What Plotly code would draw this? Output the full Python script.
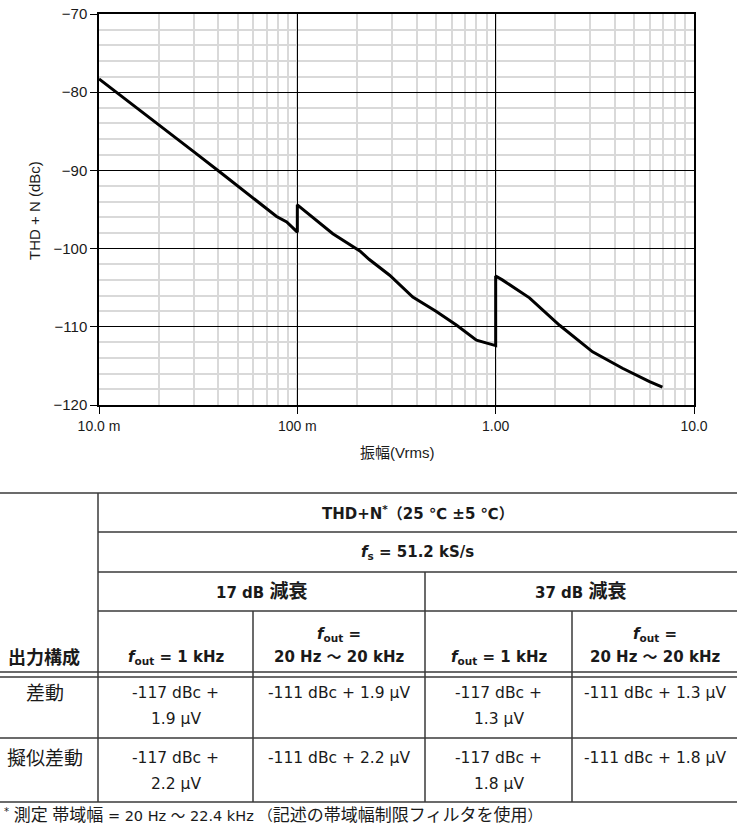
import re
import plotly.graph_objects as go

# ---------------- chart data ----------------
amplitude_vrms = [0.010, 0.013, 0.016, 0.021, 0.030, 0.0407, 0.0597, 0.0786, 0.0884, 0.099, 0.100,
                  0.100, 0.151, 0.2066, 0.2307, 0.292, 0.382, 0.50, 0.636, 0.80, 0.956, 1.00,
                  1.00, 1.08, 1.48, 2.10, 3.08, 4.36, 5.97, 6.93]
thdn_dbc = [-78.3, -80.5, -82.3, -84.6, -87.6, -90.2, -93.5, -95.9, -96.6, -97.8, -97.9,
            -94.4, -98.1, -100.3, -101.4, -103.4, -106.2, -108.0, -109.8, -111.7, -112.2, -112.4,
            -103.5, -104.0, -106.3, -109.8, -113.2, -115.3, -117.0, -117.7]

x_tickvals = [0.01, 0.1, 1, 10]
x_ticktext = ["10.0 m", "100 m", "1.00", "10.0"]
x_title = "振幅(Vrms)"
y_title = "THD + N (dBc)"

# ---------------- table data ----------------
hdr_top = "THD+N<sup>*</sup>（25 ℃ ±5 ℃）"
hdr_fs = "<i>f</i><sub>s</sub> = 51.2 kS/s"
hdr_atten = ["17 dB 減衰", "37 dB 減衰"]
hdr_config = "出力構成"
hdr_freq = ["<i>f</i><sub>out</sub> = 1 kHz", "<i>f</i><sub>out</sub> =<br>20 Hz ～ 20 kHz",
            "<i>f</i><sub>out</sub> = 1 kHz", "<i>f</i><sub>out</sub> =<br>20 Hz ～ 20 kHz"]
row_labels = ["差動", "擬似差動"]
cell_values = [
    ["-117 dBc +<br>1.9 µV", "-111 dBc + 1.9 µV", "-117 dBc +<br>1.3 µV", "-111 dBc + 1.3 µV"],
    ["-117 dBc +<br>2.2 µV", "-111 dBc + 2.2 µV", "-117 dBc +<br>1.8 µV", "-111 dBc + 1.8 µV"],
]
footnote = "<sup>*</sup> 測定 帯域幅 = 20 Hz ～ 22.4 kHz （記述の帯域幅制限フィルタを使用）"

# ---------------- layout helpers ----------------
W, H = 737, 825
def fx(p):
    return p / W
def fy(p):
    return 1 - p / H

PLOT_L, PLOT_R, PLOT_T, PLOT_B = 99, 694, 14, 405
CHART_FONT = "Liberation Sans, Arial, Noto Sans CJK JP"
TABLE_FONT = "DejaVu Sans, Noto Sans CJK JP"
TXT = "#1a1a1a"

CJK_RE = re.compile(r"([\u3040-\u30ff\u4e00-\u9fff]+)")
def cjk(s, size):
    return CJK_RE.sub(lambda m: '<span style="font-size:%gpx">%s</span>' % (size, m.group(1)), s)

fig = go.Figure()
fig.add_trace(go.Scatter(x=amplitude_vrms, y=thdn_dbc, mode="lines",
                         line=dict(color="black", width=3), showlegend=False, hoverinfo="skip"))

fig.update_xaxes(type="log", range=[-2, 1], domain=[fx(PLOT_L), fx(PLOT_R)], automargin=False,
                 tickmode="array", tickvals=x_tickvals, ticktext=x_ticktext,
                 showgrid=True, gridcolor="black", gridwidth=1,
                 minor=dict(dtick="D1", showgrid=True, gridcolor="#d9d9d9", gridwidth=2, ticks=""),
                 showline=True, linecolor="black", linewidth=1.5, mirror=True,
                 ticks="outside", ticklen=7, tickcolor="black",
                 tickfont=dict(family=CHART_FONT, size=14, color=TXT),
                 zeroline=False, layer="below traces")
fig.update_yaxes(range=[-120, -70], domain=[fy(PLOT_B), fy(PLOT_T)], automargin=False,
                 dtick=10, showgrid=True, gridcolor="black", gridwidth=1,
                 minor=dict(dtick=2, showgrid=True, gridcolor="#d9d9d9", gridwidth=2, ticks=""),
                 showline=True, linecolor="black", linewidth=1.5, mirror=True,
                 ticks="outside", ticklen=7, tickcolor="black",
                 tickfont=dict(family=CHART_FONT, size=15, color=TXT),
                 zeroline=False)

annotations = []
shapes = []

def text(x, y, s, size=15, bold=False, xanchor="center", family=TABLE_FONT, cjk_size=None):
    if cjk_size:
        s = cjk(s, cjk_size)
    if bold:
        s = "<b>" + s + "</b>"
    annotations.append(dict(x=fx(x), y=fy(y), xref="paper", yref="paper", text=s,
                            showarrow=False, xanchor=xanchor, yanchor="middle",
                            font=dict(family=family, size=size, color=TXT)))

def multiline(x, y0, s, step, **kw):
    for i, part in enumerate(s.split("<br>")):
        text(x, y0 + i * step, part, **kw)

# axis titles
text(397, 452, x_title, size=15, family=CHART_FONT)
annotations.append(dict(x=fx(35), y=fy(211), xref="paper", yref="paper", text=y_title,
                        showarrow=False, textangle=-90, xanchor="center", yanchor="middle",
                        font=dict(family=CHART_FONT, size=15, color=TXT)))

# table lines
LC = "#3a3a3a"
def hline(y, x0, x1, w=1.5):
    shapes.append(dict(type="line", xref="paper", yref="paper", x0=fx(x0), x1=fx(x1),
                       y0=fy(y), y1=fy(y), line=dict(color=LC, width=w)))
def vline(x, y0, y1, w=1.5):
    shapes.append(dict(type="line", xref="paper", yref="paper", x0=fx(x), x1=fx(x),
                       y0=fy(y0), y1=fy(y1), line=dict(color=LC, width=w)))

COLS = [0, 98, 253, 425, 572, 737]
hline(493, 0, 737)
hline(532, 98, 737)
hline(572, 98, 737)
hline(611, 98, 737)
hline(672, 0, 737)
hline(677, 0, 737)
hline(738, 0, 737)
hline(802, 0, 737)
vline(98, 493, 802)
vline(425, 572, 802)
vline(253, 611, 802)
vline(572, 611, 802)

# header text
text((98 + 737) / 2, 513, hdr_top, bold=True)
text((98 + 737) / 2, 552, hdr_fs, bold=True)
text((98 + 425) / 2, 591, hdr_atten[0], bold=True, cjk_size=19)
text((425 + 737) / 2, 591, hdr_atten[1], bold=True, cjk_size=19)
text(6, 657, hdr_config, bold=True, xanchor="left", size=18)
for j, lab in enumerate(hdr_freq):
    cx = (COLS[j + 1] + COLS[j + 2]) / 2
    parts = lab.split("<br>")
    y0 = 657 - (len(parts) - 1) * 23
    multiline(cx, y0, lab, 23, bold=True)

# body rows
row_tops = [693, 758]
for i, lab in enumerate(row_labels):
    text(45, row_tops[i], lab, size=19)
    for j, val in enumerate(cell_values[i]):
        cx = (COLS[j + 1] + COLS[j + 2]) / 2
        multiline(cx, row_tops[i], val, 26, size=15.5)

# footnote
text(2, 815, footnote, xanchor="left", size=14.5, cjk_size=17)

fig.update_layout(width=W, height=H, margin=dict(l=0, r=0, t=0, b=0),
                  paper_bgcolor="white", plot_bgcolor="white",
                  annotations=annotations, shapes=shapes, showlegend=False)

fig.write_html("out.html")
